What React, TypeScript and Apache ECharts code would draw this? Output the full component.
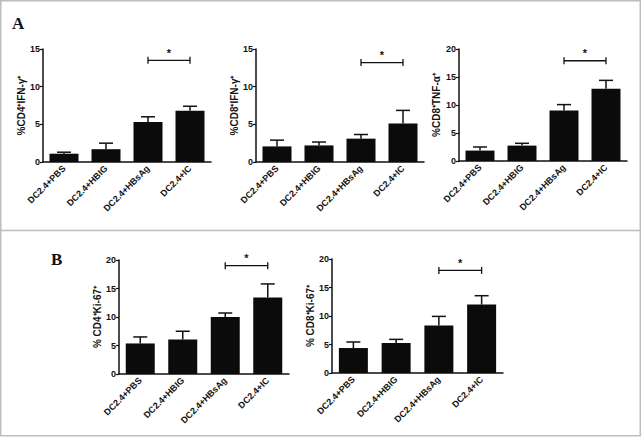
import React, { useEffect, useRef } from "react";
import * as echarts from "echarts";

const categories = ["DC2.4+PBS", "DC2.4+HBIG", "DC2.4+HBsAg", "DC2.4+IC"];

const cd4IfnMean = [1.1, 1.7, 5.3, 6.8];
const cd4IfnSem = [0.2, 0.8, 0.7, 0.6];
const cd4IfnSig = 13.5;

const cd8IfnMean = [2.07, 2.2, 3.1, 5.1];
const cd8IfnSem = [0.83, 0.45, 0.55, 1.75];
const cd8IfnSig = 13.2;

const cd8TnfMean = [1.86, 2.75, 9.0, 12.9];
const cd8TnfSem = [0.64, 0.41, 1.07, 1.5];
const cd8TnfSig = 17.9;

const cd4KiMean = [5.36, 6.07, 10.0, 13.4];
const cd4KiSem = [1.14, 1.43, 0.7, 2.4];
const cd4KiSig = 19.0;

const cd8KiMean = [4.38, 5.26, 8.35, 12.0];
const cd8KiSem = [1.06, 0.64, 1.58, 1.56];
const cd8KiSig = 18.0;

const yMax = [15, 15, 20, 20, 20];
const yNames = [
  "%CD4⁺IFN-γ⁺",
  "%CD8⁺IFN-γ⁺",
  "%CD8⁺TNF-α⁺",
  "% CD4⁺Ki-67⁺",
  "% CD8⁺Ki-67⁺",
];

const FONT = "Liberation Sans";
const INK = "#111";

export default function App() {
  const ref = useRef<HTMLDivElement>(null);
  useEffect(() => {
    if (!ref.current) return;
    const chart = echarts.init(ref.current, undefined, { renderer: "svg" });

    const means = [cd4IfnMean, cd8IfnMean, cd8TnfMean, cd4KiMean, cd8KiMean];
    const sems = [cd4IfnSem, cd8IfnSem, cd8TnfSem, cd4KiSem, cd8KiSem];
    const sigs = [cd4IfnSig, cd8IfnSig, cd8TnfSig, cd4KiSig, cd8KiSig];

    const grids = [
      { left: 43, top: 49, width: 168, height: 113 },
      { left: 256, top: 49, width: 168, height: 113 },
      { left: 459, top: 49, width: 168, height: 112 },
      { left: 119, top: 260, width: 170, height: 114 },
      { left: 332, top: 259, width: 171, height: 114 },
    ];
    const nameGaps = [12, 15, 18, 15, 16.5];

    const xAxis: any[] = [];
    const yAxis: any[] = [];
    const series: any[] = [];

    grids.forEach((g, i) => {
      xAxis.push({
        type: "category",
        gridIndex: i,
        data: categories,
        axisLine: { lineStyle: { color: INK, width: 1.5 } },
        axisTick: { alignWithLabel: true, length: 3, lineStyle: { color: INK, width: 1.2 } },
        axisLabel: {
          interval: 0,
          rotate: 45,
          margin: 5,
          fontSize: 9,
          fontWeight: "bold",
          fontFamily: FONT,
          color: INK,
        },
      });
      yAxis.push({
        type: "value",
        gridIndex: i,
        min: 0,
        max: yMax[i],
        interval: 5,
        splitLine: { show: false },
        axisLine: { show: true, lineStyle: { color: INK, width: 1.5 } },
        axisTick: { show: true, length: 3, lineStyle: { color: INK, width: 1.2 } },
        axisLabel: { fontSize: 9, fontWeight: "bold", fontFamily: FONT, color: INK, margin: 3 },
        name: yNames[i],
        nameLocation: "middle",
        nameRotate: 90,
        nameGap: nameGaps[i],
        nameTextStyle: { fontSize: 10, fontWeight: "bold", fontFamily: FONT, color: INK },
      });
      series.push({
        type: "bar",
        xAxisIndex: i,
        yAxisIndex: i,
        data: means[i],
        barWidth: 29,
        itemStyle: { color: "#0b0b0b" },
        z: 2,
      });
      series.push({
        type: "custom",
        xAxisIndex: i,
        yAxisIndex: i,
        z: 3,
        data: means[i].map((m, k) => [k, m, sems[i][k]]),
        encode: { x: 0, y: 1 },
        renderItem: (_p: any, api: any) => {
          const x = api.value(0);
          const m = api.value(1);
          const e = api.value(2);
          const p0 = api.coord([x, m]);
          const p1 = api.coord([x, m + e]);
          return {
            type: "group",
            children: [
              {
                type: "line",
                shape: { x1: p0[0], y1: p0[1], x2: p1[0], y2: p1[1] },
                style: { stroke: INK, lineWidth: 1.5 },
              },
              {
                type: "line",
                shape: { x1: p1[0] - 7, y1: p1[1], x2: p1[0] + 7, y2: p1[1] },
                style: { stroke: INK, lineWidth: 1.5 },
              },
            ],
          };
        },
      });
      series.push({
        type: "custom",
        xAxisIndex: i,
        yAxisIndex: i,
        z: 3,
        clip: false,
        data: [[2, sigs[i]]],
        encode: { x: 0, y: 1 },
        renderItem: (_p: any, api: any) => {
          const y = api.value(1);
          const a = api.coord([2, y]);
          const b = api.coord([3, y]);
          const st = { stroke: INK, lineWidth: 1.3 };
          return {
            type: "group",
            children: [
              { type: "line", shape: { x1: a[0], y1: a[1], x2: b[0], y2: b[1] }, style: st },
              { type: "line", shape: { x1: a[0], y1: a[1] - 3.5, x2: a[0], y2: a[1] + 3.5 }, style: st },
              { type: "line", shape: { x1: b[0], y1: b[1] - 3.5, x2: b[0], y2: b[1] + 3.5 }, style: st },
              {
                type: "text",
                x: (a[0] + b[0]) / 2,
                y: a[1] - 2,
                style: {
                  text: "*",
                  align: "center",
                  verticalAlign: "bottom",
                  font: `bold 11px "${FONT}"`,
                  fill: INK,
                },
              },
            ],
          };
        },
      });
    });

    chart.setOption({
      animation: false,
      backgroundColor: "#fff",
      grid: grids,
      xAxis,
      yAxis,
      series,
      graphic: [
        {
          type: "rect",
          shape: { x: 0.75, y: 0.75, width: 639.5, height: 435 },
          style: { fill: "none", stroke: "#bdbdbd", lineWidth: 1.5 },
          silent: true,
        },
        {
          type: "line",
          shape: { x1: 0, y1: 230.5, x2: 641, y2: 230.5 },
          style: { stroke: "#bdbdbd", lineWidth: 1.5 },
          silent: true,
        },
        {
          type: "text",
          left: 12,
          top: 15,
          style: { text: "A", font: 'bold 17px "Liberation Serif"', fill: INK },
        },
        {
          type: "text",
          left: 51,
          top: 251,
          style: { text: "B", font: 'bold 17px "Liberation Serif"', fill: INK },
        },
      ],
    });
    return () => chart.dispose();
  }, []);

  return (
    <div
      ref={ref}
      style={{ position: "fixed", left: 0, top: 0, width: 641, height: 437, background: "#fff" }}
    />
  );
}
